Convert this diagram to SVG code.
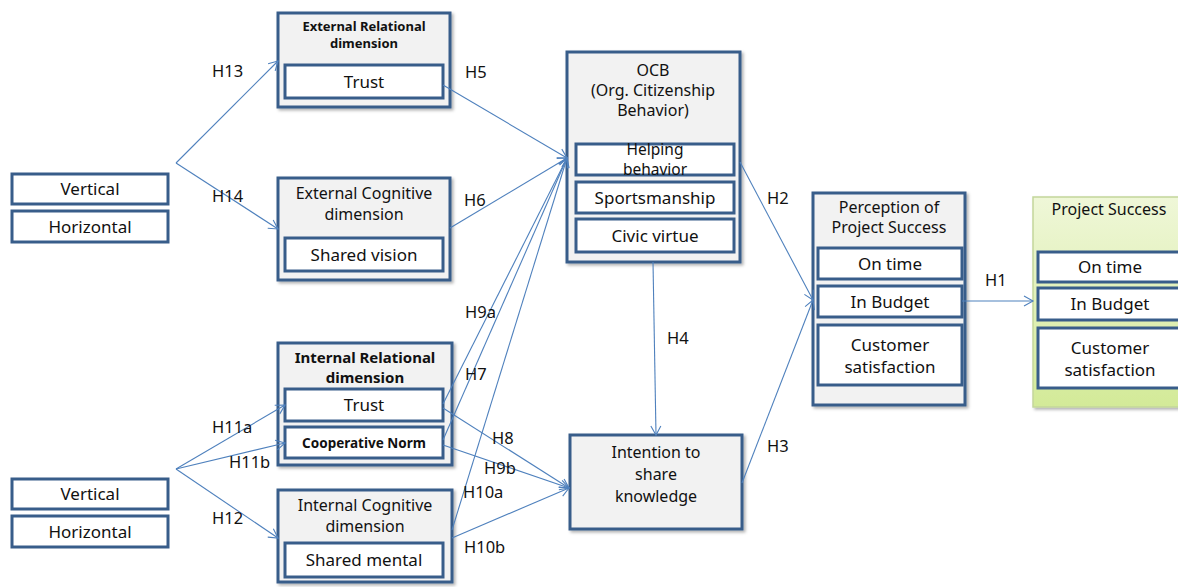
<svg xmlns="http://www.w3.org/2000/svg" width="1178" height="587" viewBox="0 0 1178 587">
<defs>
<marker id="arr" markerWidth="12" markerHeight="12" refX="10" refY="6" orient="auto" markerUnits="userSpaceOnUse">
<path d="M1,1 L10,6 L1,11" fill="none" stroke="#4F81BD" stroke-width="1.1"/>
</marker>
<linearGradient id="green" x1="0" y1="0" x2="0" y2="1">
<stop offset="0" stop-color="#EFF7D8"/>
<stop offset="1" stop-color="#D3EA98"/>
</linearGradient>
<filter id="sh" x="-10%" y="-10%" width="130%" height="130%">
<feDropShadow dx="2" dy="2" stdDeviation="1.5" flood-color="#000" flood-opacity="0.3"/>
</filter>
</defs>
<style>
text{font-family:"Noto Sans","Open Sans","DejaVu Sans",sans-serif;fill:#111;text-anchor:middle}
.outer{fill:#F2F2F2;stroke:#385D8A;stroke-width:3;filter:url(#sh)}
.inner{fill:#FFFFFF;stroke:#385D8A;stroke-width:3}
.t17{font-size:17px}
.t16{font-size:16px}
.tb{font-size:13px;font-weight:bold}
.lab{font-size:16.5px;text-anchor:start}
.con line{stroke:#4F81BD;stroke-width:1.1;marker-end:url(#arr)}
</style>
<rect width="1178" height="587" fill="#FFFFFF"/>

<g id="src-top">
<rect class="inner" x="12" y="174" width="156" height="30"/>
<text class="t17" x="90" y="195">Vertical</text>
<rect class="inner" x="12" y="211" width="156" height="31"/>
<text class="t17" x="90" y="233">Horizontal</text>
</g>

<g id="src-bottom">
<rect class="inner" x="12" y="479" width="156" height="30"/>
<text class="t17" x="90" y="500">Vertical</text>
<rect class="inner" x="12" y="516" width="156" height="31"/>
<text class="t17" x="90" y="538">Horizontal</text>
</g>

<g id="ext-relational">
<rect class="outer" x="278" y="13" width="172" height="94"/>
<text class="tb" x="364" y="31">External Relational</text>
<text class="tb" x="364" y="48">dimension</text>
<rect class="inner" x="285" y="65" width="158" height="33"/>
<text class="t17" x="364" y="88">Trust</text>
</g>

<g id="ext-cognitive">
<rect class="outer" x="278" y="178" width="172" height="102"/>
<text class="t16" x="364" y="199">External Cognitive</text>
<text class="t16" x="364" y="220">dimension</text>
<rect class="inner" x="285" y="238" width="158" height="33"/>
<text class="t17" x="364" y="261">Shared vision</text>
</g>

<g id="int-relational">
<rect class="outer" x="278" y="343" width="174" height="122"/>
<text x="365" y="363" style="font-size:15px;font-weight:bold">Internal Relational</text>
<text x="365" y="383" style="font-size:15px;font-weight:bold">dimension</text>
<rect class="inner" x="285" y="389" width="158" height="32"/>
<text class="t17" x="364" y="411">Trust</text>
<rect class="inner" x="285" y="427" width="158" height="31"/>
<text x="364" y="448" style="font-size:13.5px;font-weight:bold">Cooperative Norm</text>
</g>

<g id="int-cognitive">
<rect class="outer" x="278" y="490" width="174" height="92"/>
<text class="t16" x="365" y="511">Internal Cognitive</text>
<text class="t16" x="365" y="532">dimension</text>
<rect class="inner" x="285" y="543" width="158" height="34"/>
<text class="t17" x="364" y="566">Shared mental</text>
</g>

<g id="ocb">
<rect class="outer" x="567" y="52" width="173" height="210"/>
<text class="t16" x="653" y="76">OCB</text>
<text class="t16" x="653" y="96">(Org. Citizenship</text>
<text class="t16" x="653" y="116">Behavior)</text>
<rect class="inner" x="576" y="144" width="158" height="31"/>
<text x="655" y="155" style="font-size:15.5px">Helping</text>
<text x="655" y="175" style="font-size:15.5px">behavior</text>
<rect class="inner" x="576" y="182" width="158" height="31"/>
<text class="t17" x="655" y="204">Sportsmanship</text>
<rect class="inner" x="576" y="219" width="158" height="33"/>
<text class="t17" x="655" y="242">Civic virtue</text>
</g>

<g id="intention">
<rect class="outer" x="570" y="435" width="172" height="94"/>
<text class="t16" x="656" y="458">Intention to</text>
<text class="t16" x="656" y="480">share</text>
<text class="t16" x="656" y="502">knowledge</text>
</g>

<g id="perception">
<rect class="outer" x="813" y="193" width="152" height="212"/>
<text class="t16" x="889" y="213">Perception of</text>
<text class="t16" x="889" y="233">Project Success</text>
<rect class="inner" x="818" y="248" width="144" height="31"/>
<text class="t17" x="890" y="270">On time</text>
<rect class="inner" x="818" y="286" width="144" height="31"/>
<text class="t17" x="890" y="308">In Budget</text>
<rect class="inner" x="818" y="325" width="144" height="60"/>
<text class="t17" x="890" y="351">Customer</text>
<text class="t17" x="890" y="373">satisfaction</text>
</g>

<g id="project-success">
<rect x="1033" y="197" width="160" height="210" fill="url(#green)" stroke="#C3D69B" stroke-width="1.5" filter="url(#sh)"/>
<text class="t16" x="1109" y="215">Project Success</text>
<rect class="inner" x="1038" y="252" width="150" height="30"/>
<text class="t17" x="1110" y="273">On time</text>
<rect class="inner" x="1038" y="288" width="150" height="32"/>
<text class="t17" x="1110" y="310">In Budget</text>
<rect class="inner" x="1038" y="328" width="150" height="60"/>
<text class="t17" x="1110" y="354">Customer</text>
<text class="t17" x="1110" y="376">satisfaction</text>
</g>

<g id="connectors" class="con">
<line x1="176" y1="163" x2="278" y2="61"/>
<line x1="176" y1="163" x2="278" y2="229"/>
<line x1="176" y1="469" x2="285" y2="405"/>
<line x1="176" y1="469" x2="285" y2="443"/>
<line x1="176" y1="469" x2="278" y2="538"/>
<line x1="443" y1="85" x2="567" y2="158"/>
<line x1="450" y1="228" x2="567" y2="158"/>
<line x1="443" y1="404" x2="567" y2="158"/>
<line x1="443" y1="440" x2="567" y2="158"/>
<line x1="452" y1="530" x2="567" y2="158"/>
<line x1="443" y1="408" x2="569" y2="488"/>
<line x1="443" y1="445" x2="569" y2="488"/>
<line x1="452" y1="538" x2="569" y2="488"/>
<line x1="653" y1="262" x2="656" y2="435"/>
<line x1="740" y1="162" x2="813" y2="300"/>
<line x1="742" y1="483" x2="813" y2="300"/>
<line x1="962" y1="301" x2="1033" y2="301"/>
</g>

<g id="labels">
<text class="lab" x="212" y="77">H13</text>
<text class="lab" x="212" y="202">H14</text>
<text class="lab" x="465" y="78">H5</text>
<text class="lab" x="464" y="206">H6</text>
<text class="lab" x="767" y="204">H2</text>
<text class="lab" x="985" y="286">H1</text>
<text class="lab" x="667" y="344">H4</text>
<text class="lab" x="767" y="452">H3</text>
<text class="lab" x="465" y="318">H9a</text>
<text class="lab" x="465" y="380">H7</text>
<text class="lab" x="492" y="444">H8</text>
<text class="lab" x="484" y="474">H9b</text>
<text class="lab" x="463" y="498">H10a</text>
<text class="lab" x="464" y="553">H10b</text>
<text class="lab" x="212" y="433">H11a</text>
<text class="lab" x="229" y="468">H11b</text>
<text class="lab" x="212" y="524">H12</text>
</g>
</svg>
